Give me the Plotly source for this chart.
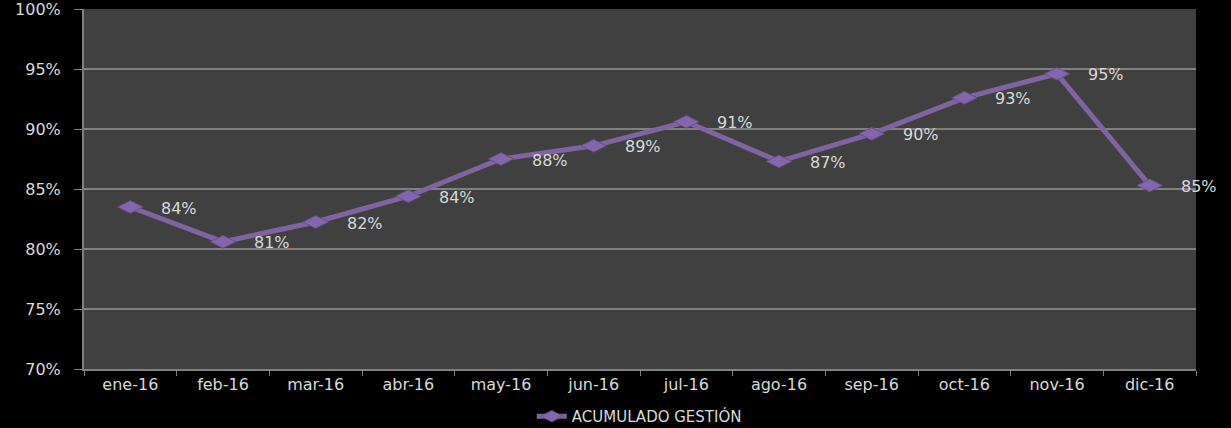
import plotly.graph_objects as go

meses = ["ene-16", "feb-16", "mar-16", "abr-16", "may-16", "jun-16",
         "jul-16", "ago-16", "sep-16", "oct-16", "nov-16", "dic-16"]
acumulado = [0.835, 0.806, 0.8225, 0.844, 0.875, 0.886,
             0.906, 0.873, 0.896, 0.926, 0.946, 0.853]
etiquetas = ["{:.0%}".format(v) for v in acumulado]

fig = go.Figure()
fig.add_trace(go.Scatter(
    x=meses, y=acumulado, mode="lines+markers", name="ACUMULADO GESTIÓN",
    line=dict(color="#8064A2", width=5),
    marker=dict(symbol="diamond-wide", size=18, color="#8466AE",
                line=dict(color="#6A4F8E", width=1)),
))

# etiquetas de datos a la derecha de cada punto
for m, v, t in zip(meses, acumulado, etiquetas):
    fig.add_annotation(x=m, y=v, text=t, showarrow=False, xanchor="left",
                       xshift=29, yshift=-1,
                       font=dict(family="DejaVu Sans", size=16, color="#d9d9d9"))

fig.update_layout(
    width=1231, height=428,
    paper_bgcolor="#000000", plot_bgcolor="#404040",
    margin=dict(l=84, r=35, t=9, b=59, autoexpand=False),
    font=dict(family="DejaVu Sans", size=16, color="#d9d9d9"),
    showlegend=True,
    legend=dict(orientation="h", x=0.432, xanchor="left", xref="container",
                y=0.027, yanchor="middle", yref="container",
                font=dict(family="DejaVu Sans", size=15, color="#d9d9d9"),
                bgcolor="rgba(0,0,0,0)"),
)
fig.update_xaxes(range=[-0.5, 11.5], showgrid=False, showline=True,
                 linecolor="#808080", linewidth=2,
                 ticks="outside", tickson="boundaries", ticklen=5, tickcolor="#808080",
                 tickfont=dict(size=16, color="#d9d9d9"))
fig.update_yaxes(range=[0.70, 1.00], dtick=0.05, tickformat=".0%",
                 showgrid=True, gridcolor="#808080", gridwidth=2,
                 showline=True, linecolor="#808080", linewidth=2,
                 ticks="outside", ticklen=8, tickcolor="#808080", ticklabelstandoff=10,
                 ticklabeloverflow="allow",
                 zeroline=False, tickfont=dict(size=16, color="#d9d9d9"))

fig.write_html("out.html", config={"displayModeBar": False},
               post_script="document.body.style.margin='0';")
